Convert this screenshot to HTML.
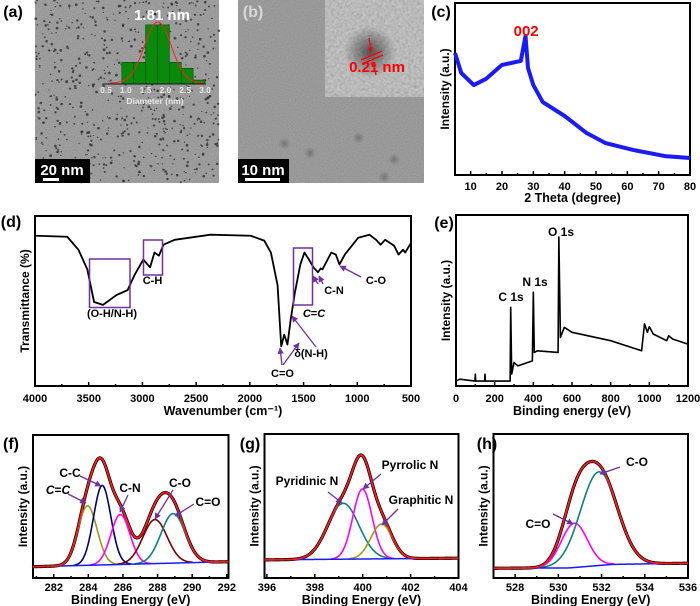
<!DOCTYPE html>
<html><head><meta charset="utf-8">
<style>
html,body{margin:0;padding:0;background:#fff;}
svg{display:block;font-family:"Liberation Sans",Arial,sans-serif;}
</style></head>
<body>
<svg id="fig" width="700" height="606" viewBox="0 0 700 606" xmlns="http://www.w3.org/2000/svg">
<defs>
<filter id="noise" x="0" y="0" width="100%" height="100%">
<feTurbulence type="fractalNoise" baseFrequency="0.85" numOctaves="2" seed="4"/>
<feColorMatrix type="matrix" values="0.33 0.33 0.33 0 0  0.33 0.33 0.33 0 0  0.33 0.33 0.33 0 0  0 0 0 0 0.55"/>
</filter>
<filter id="noise2" x="0" y="0" width="100%" height="100%">
<feTurbulence type="fractalNoise" baseFrequency="0.35" numOctaves="3" seed="9"/>
<feColorMatrix type="matrix" values="0.33 0.33 0.33 0 0  0.33 0.33 0.33 0 0  0.33 0.33 0.33 0 0  0 0 0 0 0.8"/>
</filter>
<radialGradient id="dot" cx="0.5" cy="0.5" r="0.5">
<stop offset="0" stop-color="#222" stop-opacity="0.85"/>
<stop offset="1" stop-color="#222" stop-opacity="0"/>
</radialGradient>
<marker id="arr" viewBox="0 0 10 10" refX="9" refY="5" markerWidth="5" markerHeight="5" orient="auto"><path d="M0,0 L10,5 L0,10 z" fill="#7030a0"/></marker>
<marker id="arrR" viewBox="0 0 10 10" refX="9" refY="5" markerWidth="4" markerHeight="4" orient="auto"><path d="M0,0 L10,5 L0,10 z" fill="#ff0000"/></marker>
</defs>
</svg>
<script>
// ---------- DATA ----------
// (a) size histogram
const histBinStart = [0.9, 1.2, 1.5, 1.8, 2.1, 2.4, 2.7];
const histCounts = [11, 11, 30, 30, 11, 8, 2];
const histTicks = ["0.5","1.0","1.5","2.0","2.5","3.0"];
// (c) XRD
const xrdTheta = [5, 7, 11, 15, 20, 26, 27.5, 28.3, 30, 33, 40, 47, 53, 62, 72, 80];
const xrdInt = [70.9, 59.3, 52.3, 56, 64, 66.3, 80.8, 62.2, 52.3, 42.4, 34.3, 24.4, 18.6, 14.5, 11, 9.9];
const xrdTicks = [10, 20, 30, 40, 50, 60, 70, 80];
// (d) FTIR
const irWave = [3992,3700,3596,3513,3450,3367,3242,3138,3075,2992,2929,2888,2846,2804,2700,2366,1992,1866,1804,1742,1708,1680,1650,1620,1580,1530,1492,1450,1408,1366,1340,1324,1242,1200,1166,1116,992,887,825,783,741,658,616,574,554,499];
const irTrans = [88.4,87.8,80.2,68.6,49.4,47.7,53.5,56.4,65.1,74.4,69.8,78.5,76.7,83.1,86,89,88.4,85.5,78.5,59.3,23.3,30.2,24.4,39,55.2,71.5,78.5,74.4,69.8,66.9,69.2,68.6,78.5,77.3,71.5,77.3,87.2,89,86,83.1,86,82.6,77.3,80.2,78.5,84.3];
const irTicks = [4000,3500,3000,2500,2000,1500,1000,500];
// (e) XPS survey
const xpsE = [0,20,98,100,102,148,150,152,280,283,288,300,320,395,400,405,420,528,532,540,560,600,800,960,975,990,1000,1020,1090,1100,1120,1200];
const xpsI = [2.9,4,2.9,6.9,2.9,2.9,6.9,2.9,2.9,46,7,13.7,11.8,14.7,54.9,19.6,20.6,19.6,87.2,28.4,34.3,31.4,26.5,20.6,36.3,31.4,34.7,30.4,26.5,29.4,27.5,24.5];
const xpsTicks = [0,200,400,600,800,1000,1200];
// (f) C1s
const c1sNames = ["C=C","C-C","C-N","C-O","C=O"];
const c1sCenter = [283.95, 284.8, 285.85, 287.85, 288.9];
const c1sHeight = [59.5, 79.5, 50, 44, 49.5];
const c1sSigma = [0.55, 0.5, 0.55, 0.7, 0.7];
const c1sBaseE = [280.8, 292.1];
const c1sBaseI = [11.3, 16.3];
const c1sTicks = [282,284,286,288,290,292];
// (g) N1s
const n1sNames = ["Pyridinic N","Pyrrolic N","Graphitic N"];
const n1sCenter = [399.19, 399.99, 400.79];
const n1sHeight = [55.5, 69.5, 34.5];
const n1sSigma = [0.65, 0.4, 0.45];
const n1sBaseE = [395.9, 404];
const n1sBaseI = [18, 19.7];
const n1sTicks = [396,398,400,402,404];
// (h) O1s
const o1sNames = ["C=O","C-O"];
const o1sCenter = [530.74, 531.88];
const o1sHeight = [44, 93];
const o1sSigma = [0.6, 0.85];
const o1sBaseE = [527, 530.5, 532.5, 536];
const o1sBaseI = [9.7, 10, 13.5, 14.7];
const o1sTicks = [528,530,532,534,536];

// ---------- HELPERS ----------
const NS = "http://www.w3.org/2000/svg";
const svg = document.getElementById("fig");
function mk(tag, attrs, name, parent) {
  const e = document.createElementNS(NS, tag);
  for (const k in attrs) e.setAttribute(k, attrs[k]);
  
  
  (parent || svg).appendChild(e);
  return e;
}
function txt(x, y, s, attrs, name, parent) {
  const a = Object.assign({x: x, y: y, "font-weight": "bold", "font-size": 11, "text-anchor": "middle", fill: "#000"}, attrs || {});
  const t = mk("text", a, name, parent);
  t.textContent = s;
  return t;
}
function grp(name) { return mk("g", {}, name); }
function interp(xs, ys, v) {
  if (v <= xs[0]) return ys[0];
  for (let i = 1; i < xs.length; i++) if (v <= xs[i]) { const t = (v - xs[i-1]) / (xs[i] - xs[i-1]); return ys[i-1] + t * (ys[i] - ys[i-1]); }
  return ys[ys.length - 1];
}
function panel(name, box, xd, yd, ticks, minorStep, xTitle, yTitle, tOff, titOff) {
  const g = grp(name);
  const sx = v => box.x0 + (v - xd[0]) / (xd[1] - xd[0]) * (box.x1 - box.x0);
  const sy = v => box.y1 - (v - yd[0]) / (yd[1] - yd[0]) * (box.y1 - box.y0);
  mk("rect", {x: box.x0, y: box.y0, width: box.x1 - box.x0, height: box.y1 - box.y0, fill: "none", stroke: "#000", "stroke-width": 2}, name + "-frame", g);
  const lo = Math.min(xd[0], xd[1]), hi = Math.max(xd[0], xd[1]);
  for (let v = Math.ceil(lo / minorStep) * minorStep; v <= hi + 1e-9; v += minorStep) {
    const isMajor = ticks.some(t => Math.abs(t - v) < 1e-6);
    mk("line", {x1: sx(v), x2: sx(v), y1: box.y1, y2: box.y1 - (isMajor ? 4 : 2), stroke: "#000", "stroke-width": 1.5}, name + "-x-tick", g);
  }
  ticks.forEach(t => { txt(sx(t), box.y1 + tOff, String(t), {}, name + "-x-tick-label", g); });
  txt((box.x0 + box.x1) / 2, box.y1 + titOff, xTitle, {"font-size": 12.5}, name + "-x-axis-title", g);
  const cy = (box.y0 + box.y1) / 2;
  txt(box.x0 - 6, cy, yTitle, {"font-size": 12, transform: "rotate(-90 " + (box.x0 - 6) + " " + cy + ")"}, name + "-y-axis-title", g);
  return {g, sx, sy};
}
function pathFrom(xs, ys, sx, sy) {
  return xs.map((x, i) => (i ? "L" : "M") + sx(x).toFixed(2) + "," + sy(ys[i]).toFixed(2)).join(" ");
}
function arrow(x1, y1, x2, y2, name, parent, color) {
  mk("line", {x1, y1, x2, y2, stroke: color || "#7030a0", "stroke-width": 1.3, "marker-end": color ? "url(#arrR)" : "url(#arr)"}, name, parent);
}
let seed = 12345;
function rnd() { seed = (seed * 1103515245 + 12345) % 2147483648; return seed / 2147483648; }

// ---------- (a) TEM ----------
(function () {
  const g = grp("panel-a-tem-image");
  mk("rect", {x: 35, y: 0, width: 184, height: 183, fill: "#8e8e8e"}, "tem-a-background", g);
  mk("rect", {x: 35, y: 0, width: 184, height: 183, fill: "#fff", filter: "url(#noise)", opacity: 0.55}, "tem-a-texture", g);
  for (let i = 0; i < 650; i++) {
    mk("circle", {cx: (35 + rnd() * 184).toFixed(1), cy: (rnd() * 183).toFixed(1), r: (0.6 + rnd() * 0.8).toFixed(2), fill: "#2a2a2a", opacity: 0.75}, "nanodot", g);
  }
  mk("rect", {x: 35, y: 159, width: 55, height: 24, fill: "#000"}, "scale-bar-box-a", g);
  txt(62, 175, "20 nm", {"font-size": 15, fill: "#fff"}, "scale-bar-label-a", g);
  mk("rect", {x: 43, y: 178, width: 16, height: 3, fill: "#fff"}, "scale-bar-a", g);
  const hx = v => 106 + (v - 0.5) / 2.5 * 99;
  const hy = c => 84 - c * 1.97;
  histBinStart.forEach((b, i) => {
    mk("rect", {x: hx(b), y: hy(histCounts[i]), width: hx(b + 0.3) - hx(b), height: 84 - hy(histCounts[i]), fill: "#0a8a0a", stroke: "#064c06", "stroke-width": 0.6}, "histogram-bar", g);
  });
  mk("line", {x1: 104, x2: 206, y1: 84, y2: 84, stroke: "#111", "stroke-width": 1}, "histogram-axis", g);
  let d = "";
  for (let v = 0.6; v <= 3.0; v += 0.04) d += (d ? "L" : "M") + hx(v).toFixed(1) + "," + hy(31 * Math.exp(-Math.pow(v - 1.81, 2) / (2 * 0.34 * 0.34)) + 0.5).toFixed(1);
  mk("path", {d, fill: "none", stroke: "#ff2020", "stroke-width": 1}, "histogram-fit-curve", g);
  histTicks.forEach((t, i) => { txt(hx(0.5 + i * 0.5), 93, t, {"font-size": 8.5, fill: "#e8e8e8"}, "histogram-tick-label", g); });
  txt(155, 104, "Diameter (nm)", {"font-size": 8.5, fill: "#e8e8e8"}, "histogram-x-title", g);
  txt(162, 20, "1.81 nm", {"font-size": 15, fill: "#fff"}, "mean-size-label", g);
  txt(13, 17, "(a)", {"font-size": 16}, "panel-label-a");
})();

// ---------- (b) HRTEM ----------
(function () {
  const g = grp("panel-b-hrtem-image");
  mk("rect", {x: 238, y: 0, width: 186, height: 183, fill: "#8c8c8c"}, "tem-b-background", g);
  mk("rect", {x: 238, y: 0, width: 186, height: 183, fill: "#fff", filter: "url(#noise)", opacity: 0.5}, "tem-b-texture", g);
  for (let i = 0; i < 6; i++) {
    mk("circle", {cx: (260 + rnd() * 150).toFixed(1), cy: (110 + rnd() * 70).toFixed(1), r: 6, fill: "url(#dot)", opacity: 0.35}, "particle-shadow", g);
  }
  mk("rect", {x: 325, y: 0, width: 99, height: 97, fill: "#b8b8b8"}, "hrtem-inset-background", g);
  mk("rect", {x: 325, y: 0, width: 99, height: 97, fill: "#fff", filter: "url(#noise2)", opacity: 0.6}, "hrtem-inset-texture", g);
  mk("circle", {cx: 370, cy: 52, r: 26, fill: "url(#dot)", opacity: 0.8}, "hrtem-particle", g);
  mk("line", {x1: 362, y1: 64, x2: 383, y2: 55, stroke: "#ff0000", "stroke-width": 1.3}, "lattice-line-1", g);
  mk("line", {x1: 361, y1: 60, x2: 382, y2: 51, stroke: "#ff0000", "stroke-width": 1.3}, "lattice-line-2", g);
  arrow(369, 38, 371, 52, "lattice-arrow-top", g, "#ff0000");
  arrow(376, 75, 373, 62, "lattice-arrow-bottom", g, "#ff0000");
  txt(377, 72, "0.21 nm", {"font-size": 15, fill: "#ff0000"}, "lattice-spacing-label", g);
  mk("rect", {x: 238, y: 159, width: 51, height: 24, fill: "#000"}, "scale-bar-box-b", g);
  txt(263, 175, "10 nm", {"font-size": 15, fill: "#fff"}, "scale-bar-label-b", g);
  mk("rect", {x: 245, y: 178, width: 35, height: 3, fill: "#fff"}, "scale-bar-b", g);
  txt(253, 17, "(b)", {"font-size": 16, fill: "#d8d8d8"}, "panel-label-b");
})();

// ---------- (c) XRD ----------
(function () {
  const p = panel("panel-c-xrd", {x0: 455, x1: 690, y0: 3, y1: 175}, [5, 80], [0, 100], xrdTicks, 5, "2 Theta (degree)", "Intensity (a.u.)", 15, 27);
  mk("path", {d: pathFrom(xrdTheta, xrdInt, p.sx, p.sy), fill: "none", stroke: "#1a1aff", "stroke-width": 4, "stroke-linejoin": "round"}, "xrd-pattern-line", p.g);
  txt(p.sx(27.7), 36, "002", {"font-size": 15, fill: "#ff0000"}, "peak-label-002", p.g);
  txt(441, 17, "(c)", {"font-size": 16}, "panel-label-c");
})();

// ---------- (d) FTIR ----------
(function () {
  const p = panel("panel-d-ftir", {x0: 35, x1: 411, y0: 216, y1: 386}, [4000, 500], [0, 100], irTicks, 250, "Wavenumber (cm\u207B\u00B9)", "Transmittance (%)", 16, 29);
  mk("path", {d: pathFrom(irWave, irTrans, p.sx, p.sy), fill: "none", stroke: "#000", "stroke-width": 1.8, "stroke-linejoin": "round"}, "ftir-spectrum-line", p.g);
  mk("rect", {x: 89.5, y: 259, width: 40.5, height: 48.5, fill: "none", stroke: "#7030a0", "stroke-width": 1.5}, "oh-nh-highlight-box", p.g);
  mk("rect", {x: 143.5, y: 240, width: 19, height: 35, fill: "none", stroke: "#7030a0", "stroke-width": 1.5}, "ch-highlight-box", p.g);
  mk("rect", {x: 293.5, y: 248, width: 19, height: 57, fill: "none", stroke: "#7030a0", "stroke-width": 1.5}, "cc-highlight-box", p.g);
  txt(112, 317, "(O-H/N-H)", {}, "oh-nh-label", p.g);
  txt(152.5, 284, "C-H", {}, "ch-label", p.g);
  txt(282.5, 377, "C=O", {}, "co-double-label", p.g);
  txt(311, 357, "\u03B4(N-H)", {}, "nh-bend-label", p.g);
  const cc = txt(314, 317, "", {}, "cc-label", p.g);
  cc.innerHTML = '<tspan font-style="italic">C</tspan>=<tspan font-style="italic">C</tspan>';
  txt(334, 294, "C-N", {}, "cn-label", p.g);
  txt(376, 284, "C-O", {}, "co-single-label", p.g);
  arrow(282, 365, 280, 348, "co-arrow-1", p.g);
  arrow(283, 365, 299, 343, "co-arrow-2", p.g);
  arrow(316, 347, 292, 316, "nh-arrow", p.g);
  arrow(318, 284, 313, 276, "cn-arrow-1", p.g);
  arrow(323, 284, 319, 276, "cn-arrow-2", p.g);
  arrow(361, 277, 340, 266, "co-single-arrow", p.g);
  txt(11, 227, "(d)", {"font-size": 16}, "panel-label-d");
})();

// ---------- (e) XPS survey ----------
(function () {
  const p = panel("panel-e-xps-survey", {x0: 456, x1: 688, y0: 215, y1: 386}, [0, 1200], [0, 100], xpsTicks, 100, "Binding energy (eV)", "Intensity (a.u.)", 16, 29);
  mk("path", {d: pathFrom(xpsE, xpsI, p.sx, p.sy), fill: "none", stroke: "#000", "stroke-width": 1.6, "stroke-linejoin": "round"}, "xps-survey-line", p.g);
  txt(511, 301, "C 1s", {"font-size": 12}, "c1s-peak-label", p.g);
  txt(535, 286, "N 1s", {"font-size": 12}, "n1s-peak-label", p.g);
  txt(561, 236, "O 1s", {"font-size": 12}, "o1s-peak-label", p.g);
  txt(444, 228, "(e)", {"font-size": 16}, "panel-label-e");
})();

// ---------- high-res XPS ----------
function hires(name, box, xd, ticks, centers, heights, sigmas, colors, baseE, baseI, names) {
  const p = panel(name, box, xd, [0, 143], ticks, 1, "Binding Energy (eV)", "Intensity (a.u.)", 13, 26);
  const xs = [];
  for (let v = xd[0]; v <= xd[1] + 1e-9; v += (xd[1] - xd[0]) / 300) xs.push(v);
  const base = xs.map(v => interp(baseE, baseI, v));
  const comp = centers.map((c, k) => xs.map(v => heights[k] * Math.exp(-Math.pow(v - c, 2) / (2 * sigmas[k] * sigmas[k]))));
  const env = xs.map((v, i) => base[i] + comp.reduce((s, cmp) => s + cmp[i], 0));
  mk("path", {d: pathFrom(xs, env, p.sx, p.sy), fill: "none", stroke: "#000", "stroke-width": 3.2}, name + "-raw-data", p.g);
  comp.forEach((cmp, k) => {
    const ys = [], xx = [];
    xs.forEach((v, i) => { if (cmp[i] > 0.3) { xx.push(v); ys.push(base[i] + cmp[i]); } });
    mk("path", {d: pathFrom(xx, ys, p.sx, p.sy), fill: "none", stroke: colors[k], "stroke-width": 1.6}, name + "-component-" + names[k].toLowerCase().replace(/[^a-z]+/g, "-"), p.g);
  });
  mk("path", {d: pathFrom(xs, base, p.sx, p.sy), fill: "none", stroke: "#1a1aff", "stroke-width": 1.5}, name + "-background-line", p.g);
  mk("path", {d: pathFrom(xs, env, p.sx, p.sy), fill: "none", stroke: "#ff1a1a", "stroke-width": 1.8}, name + "-envelope-fit", p.g);
  return p;
}
(function () {
  const p = hires("panel-f-c1s", {x0: 33, x1: 228.5, y0: 435, y1: 578}, [280.8, 292.1], c1sTicks, c1sCenter, c1sHeight, c1sSigma, ["#9b9b1a", "#00007a", "#ff00ff", "#7a0000", "#0a8080"], c1sBaseE, c1sBaseI, c1sNames);
  const cc = txt(58, 494, "", {"font-size": 12}, "cc-double-label", p.g);
  cc.innerHTML = '<tspan font-style="italic">C</tspan>=<tspan font-style="italic">C</tspan>';
  arrow(68, 494, 86, 503, "cc-double-arrow", p.g);
  txt(70, 477, "C-C", {"font-size": 12}, "cc-single-label", p.g);
  arrow(80, 476, 101, 486, "cc-single-arrow", p.g);
  txt(130, 492, "C-N", {"font-size": 12}, "cn-label-f", p.g);
  arrow(128, 495, 120, 512, "cn-arrow-f", p.g);
  txt(180, 487, "C-O", {"font-size": 12}, "co-label-f", p.g);
  arrow(173, 490, 155, 519, "co-arrow-f", p.g);
  txt(208, 506, "C=O", {"font-size": 12}, "c-o-double-label-f", p.g);
  arrow(194, 504, 175, 516, "c-o-double-arrow-f", p.g);
  txt(11, 449, "(f)", {"font-size": 16}, "panel-label-f");
})();
(function () {
  const p = hires("panel-g-n1s", {x0: 264.5, x1: 458.5, y0: 434, y1: 578}, [395.9, 404], n1sTicks, n1sCenter, n1sHeight, n1sSigma, ["#0a8080", "#ff00ff", "#9b9b1a"], n1sBaseE, n1sBaseI, n1sNames);
  txt(307, 485, "Pyridinic N", {"font-size": 12}, "pyridinic-n-label", p.g);
  arrow(328, 492, 342, 503, "pyridinic-n-arrow", p.g);
  txt(410, 469, "Pyrrolic N", {"font-size": 12}, "pyrrolic-n-label", p.g);
  arrow(381, 474, 363, 489, "pyrrolic-n-arrow", p.g);
  txt(421, 504, "Graphitic N", {"font-size": 12}, "graphitic-n-label", p.g);
  arrow(398, 509, 382, 525, "graphitic-n-arrow", p.g);
  txt(250, 449, "(g)", {"font-size": 16}, "panel-label-g");
})();
(function () {
  const p = hires("panel-h-o1s", {x0: 493.5, x1: 688, y0: 434, y1: 578}, [527, 536], o1sTicks, o1sCenter, o1sHeight, o1sSigma, ["#ff00ff", "#0a8080"], o1sBaseE, o1sBaseI, o1sNames);
  txt(637, 466, "C-O", {"font-size": 12}, "co-label-h", p.g);
  arrow(620, 467, 600, 474, "co-arrow-h", p.g);
  txt(538, 528, "C=O", {"font-size": 12}, "c-o-double-label-h", p.g);
  arrow(553, 514, 573, 524, "c-o-double-arrow-h", p.g);
  txt(487, 449, "(h)", {"font-size": 16}, "panel-label-h");
})();
</script>
</body></html>
